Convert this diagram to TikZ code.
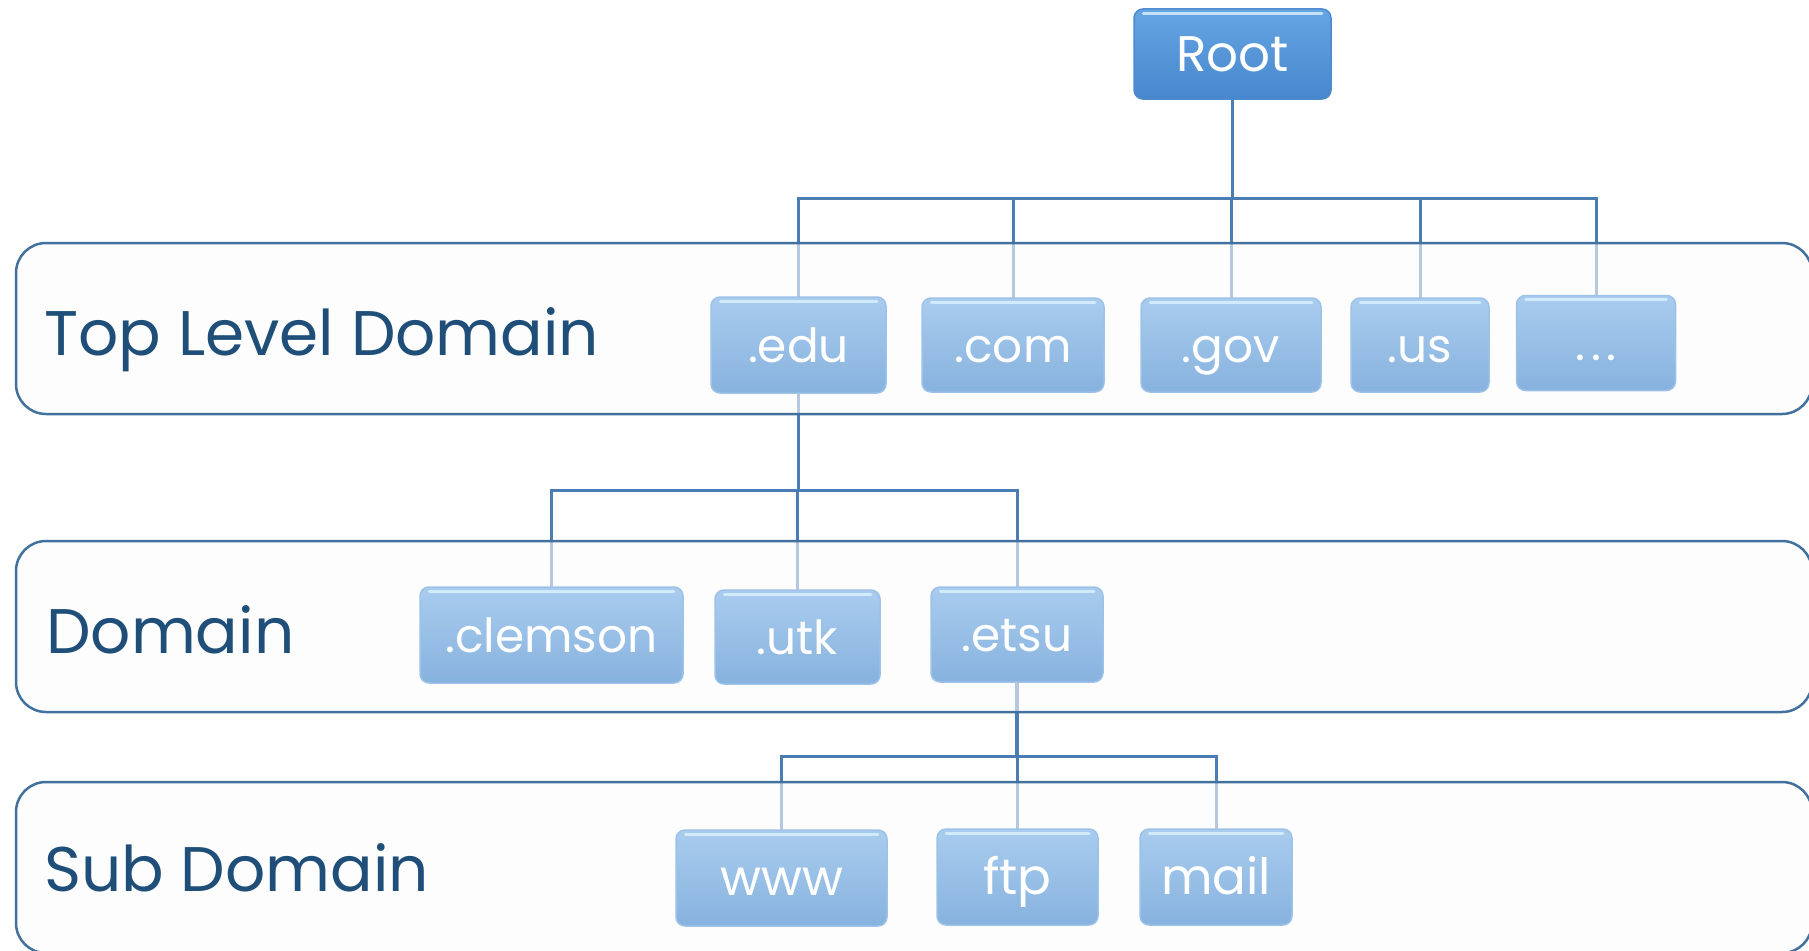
\documentclass[tikz,border=0pt]{standalone}
\usepackage{fontspec}
\setmainfont{Poppins}
\usetikzlibrary{calc}

\definecolor{lanefill}{HTML}{FCFCFC}
\definecolor{laneline}{HTML}{41719C}
\definecolor{labeltext}{HTML}{1F4E79}
\definecolor{wire}{HTML}{4A7DB4}
\definecolor{boxtop}{HTML}{A9CCEE}
\definecolor{boxbot}{HTML}{87B2DE}
\definecolor{boxedge}{HTML}{9CC2E8}
\definecolor{roottop}{HTML}{65A5E2}
\definecolor{rootbot}{HTML}{4687CE}
\definecolor{rootedge}{HTML}{4E8BCB}
\definecolor{glint}{HTML}{DDF4FF}

\tikzset{
  lane/.style={draw=laneline, line width=2.5pt, fill=lanefill, fill opacity=0.6,
    rounded corners=30pt},
  lanelabel/.style={anchor=base west, inner sep=0pt, text=labeltext,
    font=\fontsize{63}{70}\selectfont},
  glossbox/.style={rounded corners=9pt, top color=boxtop, bottom color=boxbot,
    draw=boxedge, line width=1.5pt, text=white, inner sep=0pt, align=center,
    text height=34pt, text depth=0pt},
  rootbox/.style={glossbox, top color=roottop, bottom color=rootbot, draw=rootedge},
  trunk/.style={draw=wire, line width=3.5pt},
  branch/.style={draw=wire, line width=3pt},
  glint line/.style={draw=glint, line width=3pt, line cap=round, opacity=0.8},
  fs/.style={font=\fontsize{#1}{#1}\selectfont}
}

\begin{document}
\begin{tikzpicture}[x=1pt, y=-1pt]
\useasboundingbox (0,0) rectangle (1809,950);
\clip (0,0) rectangle (1809,950);

% bus rails
\coordinate (b1) at (0,198);
\coordinate (b2) at (0,490);
\coordinate (b3) at (0,756);

% anchor points for the boxes
\coordinate (pRoot) at (1232.5,54);
\coordinate (pEdu) at (798.5,345);
\coordinate (pCom) at (1013,345);
\coordinate (pGov) at (1231,345);
\coordinate (pUs) at (1420,345);
\coordinate (pMore) at (1596,343);
\coordinate (pClemson) at (551.5,635);
\coordinate (pUtk) at (797.5,637);
\coordinate (pEtsu) at (1017,634.5);
\coordinate (pWww) at (781.5,878);
\coordinate (pFtp) at (1017.5,877);
\coordinate (pMail) at (1216,877);

% connectors: trunk from each parent down to its rail, then a drop to each child
\draw[trunk] (pRoot) -- (pRoot |- b1);
\foreach \c in {pEdu,pCom,pGov,pUs,pMore}
  \draw[branch] (pRoot |- b1) -| ($(\c)+(0,-40)$);
\draw[trunk] (pEdu) -- (pEdu |- b2);
\foreach \c in {pClemson,pUtk,pEtsu}
  \draw[branch] (pEdu |- b2) -| ($(\c)+(0,-40)$);
\draw[trunk] (pEtsu) -- (pEtsu |- b3);
\foreach \c in {pWww,pFtp,pMail}
  \draw[branch] (pEtsu |- b3) -| ($(\c)+(0,-40)$);

% level bands, semi-transparent over the wires
\path[lane] (16,243) rectangle (1812,414);
\path[lane] (16,541) rectangle (1812,712);
\path[lane] (16,782) rectangle (1812,953);

\node[lanelabel] (lblTop) at (44,355) {Top Level Domain};
\node[lanelabel] (lblDom) at (46,653) {Domain};
\node[lanelabel] (lblSub) at (44,891) {Sub Domain};

% boxes
\node[rootbox, fs=50, minimum width=197pt, minimum height=90pt] (root) at (pRoot) {Root};

\node[glossbox, fs=47, minimum width=175pt, minimum height=96pt] (edu) at (pEdu) {.edu};
\node[glossbox, fs=47, minimum width=182pt, minimum height=94pt] (com) at (pCom) {.com};
\node[glossbox, fs=47, minimum width=180pt, minimum height=94pt] (gov) at (pGov) {.gov};
\node[glossbox, fs=47, minimum width=138pt, minimum height=94pt] (us) at (pUs) {.us};
\node[glossbox, fs=47, minimum width=159pt, minimum height=95pt] (more) at (pMore) {.\kern6pt.\kern6pt.};

\node[glossbox, fs=47, minimum width=263pt, minimum height=96pt] (clemson) at (pClemson) {.clemson};
\node[glossbox, fs=47, minimum width=165pt, minimum height=94pt] (utk) at (pUtk) {.utk};
\node[glossbox, fs=47, minimum width=172pt, minimum height=95pt] (etsu) at (pEtsu) {.etsu};

\node[glossbox, fs=50, minimum width=211pt, minimum height=96pt] (www) at (pWww) {www};
\node[glossbox, fs=50, minimum width=161pt, minimum height=96pt] (ftp) at (pFtp) {ftp};
\node[glossbox, fs=50, minimum width=152pt, minimum height=96pt] (mail) at (pMail) {mail};

% glossy highlight along the top edge of every box
\foreach \n in {root,edu,com,gov,us,more,clemson,utk,etsu,www,ftp,mail}
  \draw[glint line] ([xshift=10pt,yshift=-5pt]\n.north west) -- ([xshift=-10pt,yshift=-5pt]\n.north east);
\end{tikzpicture}
\end{document}
